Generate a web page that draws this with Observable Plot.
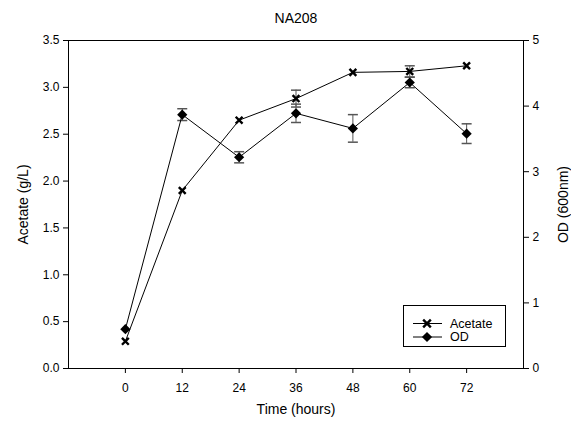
<!DOCTYPE html>
<html>
<head>
<meta charset="utf-8">
<script src="https://cdn.jsdelivr.net/npm/d3@7"></script>
<script src="https://cdn.jsdelivr.net/npm/@observablehq/plot@0.6"></script>
<style>
  html, body { margin: 0; padding: 0; background: #fff; }
  #chart { width: 571px; height: 424px; }
  svg { font-family: "Liberation Sans", Arial, sans-serif; }
</style>
</head>
<body>
<div id="chart"></div>
<script>
// ---- data ----
const hours = [0, 12, 24, 36, 48, 60, 72];
const acetate = [0.29, 1.90, 2.65, 2.88, 3.16, 3.17, 3.23];
const acetateErr = [0, 0, 0, 0.09, 0, 0.06, 0];
const od = [0.60, 3.87, 3.22, 3.89, 3.66, 4.36, 3.58];
const odErr = [0, 0.09, 0.085, 0.14, 0.21, 0.08, 0.15];
const xTicks = [0, 12, 24, 36, 48, 60, 72];
const yLeftTicks = [0, 0.5, 1.0, 1.5, 2.0, 2.5, 3.0, 3.5];
const yRightTicks = [0, 1, 2, 3, 4, 5];
const title = "NA208";
const xLabel = "Time (hours)";
const yLeftLabel = "Acetate (g/L)";
const yRightLabel = "OD (600nm)";
const seriesNames = ["Acetate", "OD"];

// right axis (OD 0..5) mapped onto left axis (Acetate 0..3.5)
const k = 3.5 / 5;

const acData = hours.map((h, i) => ({x: h, y: acetate[i], e: acetateErr[i]}));
const odData = hours.map((h, i) => ({x: h, y: od[i] * k, e: odErr[i] * k}));
const acErrData = acData.filter(d => d.e > 0);
const odErrData = odData.filter(d => d.e > 0);

const capSymbol = {
  draw(ctx, size) {
    const r = 5;
    ctx.moveTo(-r, 0);
    ctx.lineTo(r, 0);
  }
};
const errColor = "#555";

const chart = Plot.plot({
  width: 571,
  height: 424,
  marginLeft: 68,
  marginRight: 48,
  marginTop: 40,
  marginBottom: 56,
  style: {fontFamily: "Liberation Sans, Arial, sans-serif", fontSize: "12px", color: "#000", background: "#fff"},
  x: {domain: [-12, 84]},
  y: {domain: [0, 3.5]},
  marks: [
    Plot.frame({stroke: "#000", strokeWidth: 1}),
    Plot.axisX({ticks: xTicks, tickSize: 5, tickPadding: 10, fontSize: 12,
      label: xLabel, labelAnchor: "center", labelArrow: "none", labelOffset: 45}),
    Plot.axisY({anchor: "left", ticks: yLeftTicks, tickSize: 5, tickPadding: 4, tickFormat: d3.format(".1f"), fontSize: 12,
      label: yLeftLabel, labelAnchor: "center", labelArrow: "none", labelOffset: 50}),
    Plot.axisY({anchor: "right", ticks: yRightTicks.map(v => v * k), tickSize: 5, tickPadding: 4,
      tickFormat: d => d3.format("d")(Math.round(d / k)), fontSize: 12,
      label: yRightLabel, labelAnchor: "center", labelArrow: "none", labelOffset: 44}),
    // error bars
    Plot.ruleX(acErrData, {x: "x", y1: d => d.y - d.e, y2: d => d.y + d.e, stroke: errColor}),
    Plot.dot(acErrData, {x: "x", y: d => d.y - d.e, symbol: capSymbol, stroke: errColor, strokeWidth: 1.5}),
    Plot.dot(acErrData, {x: "x", y: d => d.y + d.e, symbol: capSymbol, stroke: errColor, strokeWidth: 1.5}),
    Plot.ruleX(odErrData, {x: "x", y1: d => d.y - d.e, y2: d => d.y + d.e, stroke: errColor}),
    Plot.dot(odErrData, {x: "x", y: d => d.y - d.e, symbol: capSymbol, stroke: errColor, strokeWidth: 1.5}),
    Plot.dot(odErrData, {x: "x", y: d => d.y + d.e, symbol: capSymbol, stroke: errColor, strokeWidth: 1.5}),
    // lines
    Plot.line(acData, {x: "x", y: "y", stroke: "#000", strokeWidth: 1}),
    Plot.line(odData, {x: "x", y: "y", stroke: "#000", strokeWidth: 1}),
    // markers
    Plot.dot(acData, {x: "x", y: "y", symbol: "times", r: 3.2, stroke: "#000", strokeWidth: 2.4}),
    Plot.dot(odData, {x: "x", y: "y", symbol: "diamond2", r: 4.6, fill: "#000", stroke: "none"}),
    // title
    Plot.text([title], {frameAnchor: "top", dy: -27, fontSize: 14, fill: "#000"})
  ]
});

document.getElementById("chart").appendChild(chart);

// larger axis titles
d3.select(chart).selectAll('g[aria-label="x-axis label"], g[aria-label="y-axis label"]')
  .attr("font-size", 14);

// legend box
const svg = d3.select(chart);
const lg = svg.append("g").attr("class", "legend").attr("text-anchor", "start");
lg.append("rect").attr("x", 403.5).attr("y", 305.5).attr("width", 102).attr("height", 41)
  .attr("fill", "#fff").attr("stroke", "#000");
seriesNames.forEach((name, i) => {
  const yy = 323.5 + i * 13.5;
  lg.append("line").attr("x1", 413).attr("x2", 442).attr("y1", yy).attr("y2", yy).attr("stroke", "#000");
  if (i === 0) {
    lg.append("path").attr("d", d3.symbol(d3.symbolTimes, 40)())
      .attr("transform", `translate(427,${yy})`).attr("stroke", "#000").attr("stroke-width", 2.4).attr("fill", "none");
  } else {
    lg.append("path").attr("d", d3.symbol(d3.symbolDiamond2, 4.6 * 4.6 * Math.PI)())
      .attr("transform", `translate(427,${yy})`).attr("fill", "#000");
  }
  lg.append("text").attr("x", 450).attr("y", yy).attr("dy", "0.35em")
    .attr("font-size", 12.5).attr("fill", "#000").text(name);
});
</script>
</body>
</html>
